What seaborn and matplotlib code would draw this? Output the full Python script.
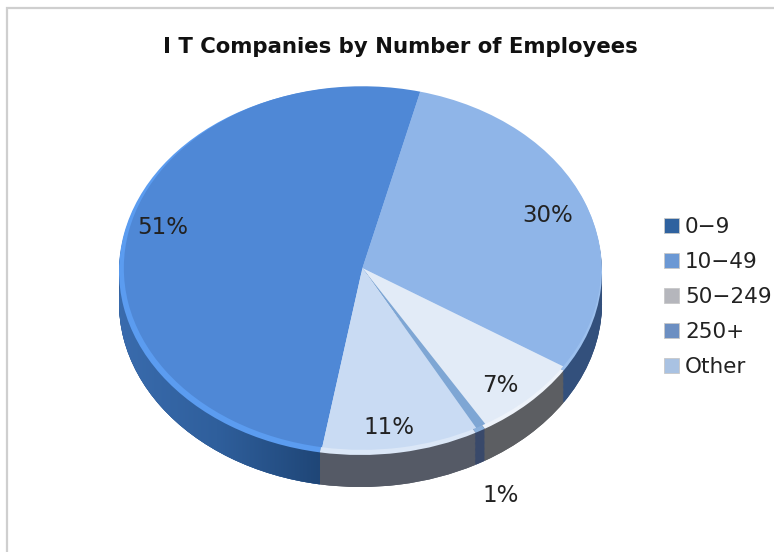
import numpy as np
import seaborn as sns
import matplotlib
matplotlib.use("Agg")
import matplotlib.pyplot as plt
from matplotlib.patches import Rectangle

categories = ["0\u22129", "10\u221249", "50\u2212249", "250+", "Other"]
shares = [51.2, 30.2, 7.3, 0.7, 10.6]
title = "I T Companies by Number of Employees"

top_colors = ["#4f88d6", "#8fb5e8", "#e2ebf7", "#7ea6d4", "#c9dbf3"]
rim_colors = ["#5b9cf0", "#9cc0ee", "#eef3fa", "#8ab0dc", "#dbe7f7"]
side_colors = ["#2f5d98", "#33507c", "#5c5e62", "#39496a", "#555a66"]
legend_colors = ["#2f629f", "#6b98d4", "#b5b6bc", "#6c8fc2", "#a9c2e2"]
label_pixels = [(163, 227), (548, 216), (500, 386), (501, 495), (389, 428)]

START = 260.3
DEPTH = 0.174
LEFT, RIGHT, TOP, BOTTOM = 119, 602, 87, 455

sns.set_theme(style="white")
plt.rcParams["font.family"] = ["DejaVu Sans"]

fig = plt.figure(figsize=(7.74, 5.52), dpi=100)
fig.patches.append(Rectangle((7 / 774, -0.05), 1.1, 1.05 - 8 / 552, transform=fig.transFigure,
                             fill=False, edgecolor="#cfcfcf", linewidth=1.6))

ax = fig.add_axes([LEFT / 774, 1 - BOTTOM / 552, (RIGHT - LEFT) / 774, (BOTTOM - TOP) / 552])

# extruded side: stacked copies of the pie going down
for off in np.linspace(DEPTH, 0.01, 26):
    ax.pie(shares, colors=sns.color_palette(side_colors), startangle=START, counterclock=False,
           center=(0, -off), wedgeprops={"linewidth": 0, "zorder": 2})

# shade the blue side from the left edge towards the front, stopping at the seam
bottom, _ = ax.pie(shares, colors=sns.color_palette(side_colors), startangle=START, counterclock=False,
                   center=(0, -DEPTH), wedgeprops={"linewidth": 0, "zorder": 1})
grad = np.linspace(0, 1, 256).reshape(1, -1)
cmap = matplotlib.colors.LinearSegmentedColormap.from_list("side", ["#3a6cae", "#2f5f9c", "#1f4677"])
seam_x = np.cos(np.radians(START))
img = ax.imshow(grad, extent=(-1.02, seam_x, -1.3, 0.3), cmap=cmap, aspect="auto", zorder=3)
img.set_clip_path(bottom[0])
img.set_clip_box(fig.bbox)

# lighter rim then the top face
ax.pie(shares, colors=sns.color_palette(rim_colors), startangle=START, counterclock=False,
       wedgeprops={"linewidth": 0, "zorder": 4})
wedges, _, autotexts = ax.pie(shares, colors=sns.color_palette(top_colors), startangle=START,
                              counterclock=False, radius=0.988, center=(0.008, 0.016),
                              autopct="%.0f%%", pctdistance=0.85,
                              wedgeprops={"linewidth": 0, "zorder": 5},
                              textprops={"fontsize": 16.5, "color": "#222222", "zorder": 6})

ax.set_aspect("auto")
ax.set_xlim(-1, 1)
ax.set_ylim(-1, 1)
ax.axis("off")

# labels placed by hand, the 1% one sits outside the pie
for txt, (px, py) in zip(autotexts, label_pixels):
    txt.set_transform(fig.dpi_scale_trans)
    txt.set_position((px / 100, (552 - py) / 100))

fig.text(400 / 774, 1 - 47 / 552, title, ha="center", va="center",
         fontsize=15.3, fontweight="bold", color="#111111")

handles = [Rectangle((0, 0), 1, 1, facecolor=c, edgecolor="#c8c8c8", linewidth=0.6)
           for c in legend_colors]
fig.legend(handles, categories, loc="center left", bbox_to_anchor=(664 / 774, 1 - 297 / 552),
           frameon=False, fontsize=15.5, labelcolor="#222222", handlelength=0.7, handleheight=0.7,
           handletextpad=0.28, labelspacing=0.69, borderpad=0, borderaxespad=0)

plt.savefig("out.png", dpi=100)
plt.close()
